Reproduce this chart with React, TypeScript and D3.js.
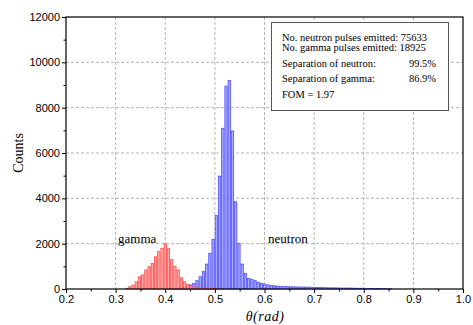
import { useEffect, useRef } from "react";
import * as d3 from "d3";

// histogram bins (rad), counts
const binWidth = 0.0065;
const gammaStart = 0.322; // centre of first gamma bin
const gammaCounts = [
  30, 100, 175, 320, 540, 620, 840, 985, 1130, 1420, 1645, 1795, 1990, 1780,
  1290, 990, 840, 500, 320, 200, 130, 90, 70, 55, 45, 35, 25, 18, 12,
];
const neutronStart = 0.412; // centre of first neutron bin
const neutronCounts = [
  10, 20, 30, 50, 80, 120, 180, 250, 370, 540, 765, 1100, 1575, 2190, 3250,
  4980, 7090, 8950, 9200, 6970, 3850, 2015, 1100, 690, 470, 430, 370, 300, 250,
  210, 185, 160, 140, 125, 115, 108, 100, 96, 100, 92, 88, 85, 80, 84, 72, 66,
  64, 60, 58, 55, 50, 52, 46, 44, 42, 45, 38, 36, 34, 32, 28, 30, 25, 22, 20,
  22, 15, 12, 10,
];
const xTicks = [0.2, 0.3, 0.4, 0.5, 0.6, 0.7, 0.8, 0.9, 1.0];
const yTicks = [0, 2000, 4000, 6000, 8000, 10000, 12000];
const infoLines = [
  { label: "No. neutron pulses emitted: 75633", value: "" },
  { label: "No. gamma pulses emitted: 18925", value: "" },
  { label: "Separation of neutron:", value: "99.5%" },
  { label: "Separation of gamma:", value: "86.9%" },
  { label: "FOM = 1.97", value: "" },
];

const App = () => {
  const ref = useRef<SVGSVGElement>(null);

  useEffect(() => {
    const width = 473;
    const height = 325;
    const left = 66;
    const right = 463;
    const top = 17;
    const bottom = 289;
    const serif = "'Liberation Serif', 'Times New Roman', serif";
    const sans = "'Liberation Sans', Arial, sans-serif";

    const svg = d3.select(ref.current).attr("width", width).attr("height", height);
    svg.selectAll("*").remove();

    const x = d3.scaleLinear().domain([0.2, 1.0]).range([left, right]);
    const y = d3.scaleLinear().domain([0, 12000]).range([bottom, top]);

    // grid
    const grid = svg.append("g").attr("stroke", "#b4b4b4").attr("stroke-dasharray", "3,2");
    grid
      .selectAll("line.gx")
      .data(xTicks.slice(1, -1))
      .join("line")
      .attr("x1", (d) => x(d))
      .attr("x2", (d) => x(d))
      .attr("y1", top)
      .attr("y2", bottom);
    grid
      .selectAll("line.gy")
      .data(yTicks.slice(1, -1))
      .join("line")
      .attr("x1", left)
      .attr("x2", right)
      .attr("y1", (d) => y(d))
      .attr("y2", (d) => y(d));

    const bw = (x(binWidth) - x(0)) * 0.72;
    const drawBars = (counts: number[], start: number, fill: string, stroke: string) => {
      svg
        .append("g")
        .selectAll("rect")
        .data(counts)
        .join("rect")
        .attr("x", (_, i) => x(start + i * binWidth) - bw / 2)
        .attr("y", (d) => y(d))
        .attr("width", bw)
        .attr("height", (d) => y(0) - y(d))
        .attr("fill", fill)
        .attr("stroke", stroke)
        .attr("stroke-width", 0.8);
    };
    drawBars(neutronCounts, neutronStart, "#a9abff", "#4b4bff");
    drawBars(gammaCounts, gammaStart, "#ffa9a9", "#ff4b4b");

    // axes
    const xAxis = svg
      .append("g")
      .attr("transform", `translate(0,${bottom})`)
      .call(d3.axisBottom(x).tickValues(xTicks).tickFormat(d3.format(".1f")).tickSize(4).tickPadding(2).tickSizeOuter(0));
    svg
      .append("g")
      .attr("transform", `translate(0,${bottom})`)
      .call(d3.axisBottom(x).tickValues(d3.range(0.25, 1.0, 0.1)).tickFormat(() => "").tickSize(2.5).tickSizeOuter(0));
    const yAxis = svg
      .append("g")
      .attr("transform", `translate(${left},0)`)
      .call(d3.axisLeft(y).tickValues(yTicks).tickFormat(d3.format("d")).tickSize(4).tickPadding(2).tickSizeOuter(0));
    svg
      .append("g")
      .attr("transform", `translate(${left},0)`)
      .call(d3.axisLeft(y).tickValues(d3.range(1000, 12000, 2000)).tickFormat(() => "").tickSize(2.5).tickSizeOuter(0));

    svg.selectAll(".domain").remove();
    svg.selectAll(".tick line").attr("stroke", "#000");
    [xAxis, yAxis].forEach((g) =>
      g.selectAll("text").style("font-family", sans).style("font-size", "11px").attr("fill", "#000")
    );

    // frame
    svg
      .append("rect")
      .attr("x", left)
      .attr("y", top)
      .attr("width", right - left)
      .attr("height", bottom - top)
      .attr("fill", "none")
      .attr("stroke", "#000")
      .attr("stroke-width", 1.2);

    // axis titles
    svg
      .append("text")
      .attr("transform", `translate(23,${(top + bottom) / 2}) rotate(-90)`)
      .attr("text-anchor", "middle")
      .style("font-family", serif)
      .style("font-size", "14px")
      .text("Counts");
    svg
      .append("text")
      .attr("x", 265)
      .attr("y", 321)
      .attr("text-anchor", "middle")
      .style("font-family", serif)
      .style("font-style", "italic")
      .style("font-size", "14px")
      .style("letter-spacing", "0.5px")
      .text("θ(rad)");

    // peak labels
    svg
      .append("text")
      .attr("x", 118)
      .attr("y", 243)
      .style("font-family", serif)
      .style("font-size", "13px")
      .text("gamma");
    svg
      .append("text")
      .attr("x", 268)
      .attr("y", 243)
      .style("font-family", serif)
      .style("font-size", "13px")
      .text("neutron");

    // info box
    svg
      .append("rect")
      .attr("x", 271.5)
      .attr("y", 22.5)
      .attr("width", 177)
      .attr("height", 88)
      .attr("fill", "#fff")
      .attr("stroke", "#555")
      .attr("stroke-width", 1);
    const baselines = [40.5, 51, 67, 81.5, 98];
    const info = svg.append("g").style("font-family", serif).style("font-size", "10.5px");
    info
      .selectAll("text.l")
      .data(infoLines)
      .join("text")
      .attr("x", 282)
      .attr("y", (_, i) => baselines[i])
      .text((d) => d.label);
    info
      .selectAll("text.v")
      .data(infoLines.filter((d) => d.value))
      .join("text")
      .attr("x", 436)
      .attr("y", (_, i) => baselines[i + 2])
      .attr("text-anchor", "end")
      .text((d) => d.value);
  }, []);

  return <svg ref={ref} style={{ position: "absolute", left: 0, top: 0 }} />;
};

export default App;
